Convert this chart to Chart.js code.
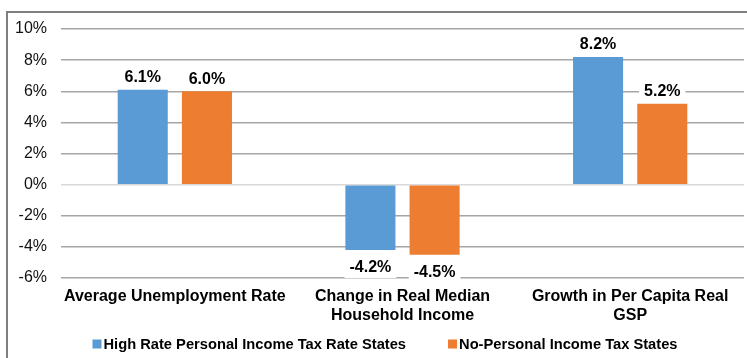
<!DOCTYPE html>
<html lang="en">
<head>
  <meta charset="UTF-8">
  <title>Tax States Comparison</title>
  <script src="https://cdn.jsdelivr.net/npm/chart.js"></script>
  <style>
    html, body { margin: 0; padding: 0; background: #fff; }
    #wrap { position: relative; width: 747px; height: 358px; }
  </style>
</head>
<body>
  <div id="wrap"><canvas id="grafico"></canvas></div>

<script>
  // categorias e valores (%)
  const categorias = [
    ['Average Unemployment Rate'],
    ['Change in Real Median', 'Household Income'],
    ['Growth in Per Capita Real', 'GSP']
  ];
  const altaTaxa = [6.1, -4.2, 8.2];
  const semTaxa = [6.0, -4.5, 5.2];
  const nomesSeries = ['High Rate Personal Income Tax Rate States', 'No-Personal Income Tax States'];
  const ticksY = { min: -6, max: 10, passo: 2 };

  const azul = '#5b9bd5';
  const laranja = '#ed7d31';
  const fonte = '"Liberation Sans", Arial, sans-serif';

  // moldura cinza em volta do grafico
  const moldura = {
    id: 'moldura',
    beforeDraw(chart) {
      const ctx = chart.ctx;
      ctx.save();
      ctx.strokeStyle = '#7f7f7f';
      ctx.lineWidth = 2;
      ctx.beginPath();
      ctx.moveTo(7, chart.height + 2);
      ctx.lineTo(7, 12);
      ctx.lineTo(chart.width + 2, 12);
      ctx.stroke();
      ctx.restore();
    }
  };

  // rotulos de valor em cima/embaixo das barras, com fundo branco
  const rotulos = {
    id: 'rotulos',
    afterDatasetsDraw(chart) {
      const ctx = chart.ctx;
      ctx.save();
      ctx.font = 'bold 16px ' + fonte;
      ctx.textAlign = 'center';
      ctx.textBaseline = 'middle';
      chart.data.datasets.forEach(function (ds, i) {
        chart.getDatasetMeta(i).data.forEach(function (barra, j) {
          const v = ds.data[j];
          const txt = v.toFixed(1) + '%';
          const y = v >= 0 ? barra.y - 13 : barra.y + 17;
          const w = ctx.measureText(txt).width + 10;
          ctx.fillStyle = '#fff';
          ctx.fillRect(barra.x - w / 2, y - 11, w, 22);
          ctx.fillStyle = '#000';
          ctx.fillText(txt, barra.x, y + 1);
        });
      });
      ctx.restore();
    }
  };

  // legenda embaixo, quadradinho colado no texto
  const legenda = {
    id: 'legenda',
    afterDraw(chart) {
      const ctx = chart.ctx;
      const espaco = 42;
      ctx.save();
      ctx.font = 'bold 14.7px ' + fonte;
      ctx.textBaseline = 'middle';
      const itens = chart.data.datasets.map(function (ds) {
        return { texto: ds.label, cor: ds.backgroundColor, w: 11 + ctx.measureText(ds.label).width };
      });
      let total = espaco * (itens.length - 1);
      itens.forEach(function (it) { total += it.w; });
      let x = 385 - total / 2;
      const y = 344;
      itens.forEach(function (it) {
        ctx.fillStyle = it.cor;
        ctx.fillRect(x, y - 4.5, 9, 9);
        ctx.fillStyle = '#000';
        ctx.fillText(it.texto, x + 11, y + 0.5);
        x += it.w + espaco;
      });
      ctx.restore();
    }
  };

  const dados = {
    labels: categorias,
    datasets: [
      {
        label: nomesSeries[0],
        data: altaTaxa,
        backgroundColor: azul,
        categoryPercentage: 0.564,
        barPercentage: 0.78
      },
      {
        label: nomesSeries[1],
        data: semTaxa,
        backgroundColor: laranja,
        categoryPercentage: 0.564,
        barPercentage: 0.78
      }
    ]
  };

  const opcoes = {
    responsive: false,
    animation: false,
    devicePixelRatio: 1,
    layout: { padding: { top: 29, left: 0, right: 3, bottom: 31.6 } },
    plugins: {
      tooltip: { enabled: false },
      legend: { display: false }
    },
    scales: {
      x: {
        grid: { display: false },
        border: { display: false },
        ticks: {
          color: '#000',
          maxRotation: 0,
          padding: 1,
          font: { family: fonte, size: 16, weight: 'bold' }
        }
      },
      y: {
        min: ticksY.min,
        max: ticksY.max,
        afterFit(scale) { scale.width = 61; },
        grid: {
          drawTicks: false,
          lineWidth: 1.5,
          color: function (c) { return c.tick && c.tick.value === 0 ? '#d9d9d9' : '#a6a6a6'; }
        },
        border: { display: false },
        ticks: {
          stepSize: ticksY.passo,
          padding: 14,
          color: '#111',
          font: { family: fonte, size: 16 },
          callback: function (v) { return v + '%'; }
        }
      }
    }
  };

  const canvas = document.getElementById('grafico');
  canvas.width = 747;
  canvas.height = 358;
  new Chart(canvas, { type: 'bar', data: dados, options: opcoes, plugins: [moldura, rotulos, legenda] });
</script>
</body>
</html>
